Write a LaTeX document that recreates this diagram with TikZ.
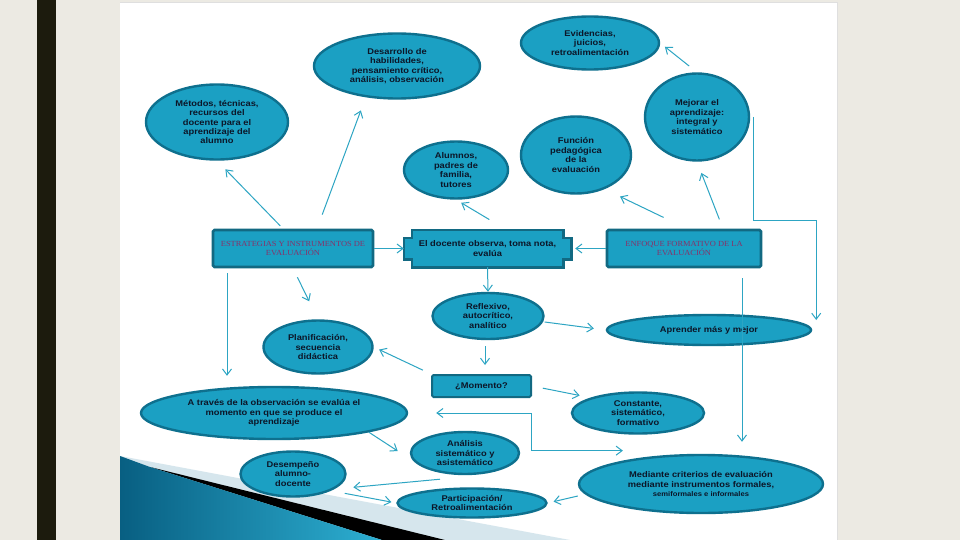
\documentclass[tikz,border=0pt]{standalone}
\usepackage{fontspec}
\setmainfont{Liberation Sans}
\newfontfamily\bubblefont{Liberation Sans}[FakeStretch=1.12]
\newfontfamily\capsfont{Liberation Serif}[FakeStretch=1.08]
\usetikzlibrary{arrows.meta, shapes.geometric, positioning, calc, backgrounds}

\definecolor{pagebg}{RGB}{236,234,227}
\definecolor{barcol}{RGB}{28,27,13}
\definecolor{bubblefill}{RGB}{27,160,195}
\definecolor{bubbleline}{RGB}{14,112,142}
\definecolor{boxline}{RGB}{18,105,130}
\definecolor{nodetext}{RGB}{12,22,40}
\definecolor{capstext}{RGB}{135,50,105}
\definecolor{arrowcol}{RGB}{45,165,195}
\definecolor{decodark}{RGB}{8,95,130}
\definecolor{decolight}{RGB}{45,175,210}
\definecolor{decoband}{RGB}{214,230,237}

\begin{document}
\begin{tikzpicture}[x=1pt, y=-1pt,
  bubble/.style={ellipse, draw=bubbleline, line width=2.4pt, fill=bubblefill, inner sep=0pt,
                 align=center, text=nodetext, font=\bubblefont\fontsize{8.3}{9.4}\selectfont\bfseries},
  titlebox/.style={rectangle, draw=boxline, line width=2.6pt, fill=bubblefill, rounded corners=1.5pt,
                   inner sep=0pt, align=center, text=capstext, font=\capsfont\fontsize{7.8}{9.3}\selectfont},
  plaquebox/.style={rectangle, inner sep=0pt, align=center, text=nodetext,
                    font=\bubblefont\fontsize{8.3}{9.4}\selectfont\bfseries},
  arr/.style={-{Straight Barb[length=6pt, width=9pt]}, draw=arrowcol, line width=1pt},
  darr/.style={{Straight Barb[length=6pt, width=9pt]}-{Straight Barb[length=6pt, width=9pt]},
               draw=arrowcol, line width=1pt}
]
\useasboundingbox (0,0) rectangle (960,540);

% ---- slide background ----
\begin{scope}[on background layer]
  \fill[pagebg] (0,0) rectangle (960,540);
  \fill[barcol] (37,0) rectangle (56,540);
  \fill[white] (120,2) rectangle (837,540);
  \draw[gray!25, line width=0.8pt] (120,2) -- (837,2) -- (837,540);
  \fill[decoband] (120,456) -- (570,540) -- (120,540) -- cycle;
  \fill[black] (150,467) -- (445,540) -- (382,540) -- cycle;
  \shade[left color=decodark, right color=decolight] (120,456) -- (150,467) -- (382,540) -- (120,540) -- cycle;
\end{scope}

% ---- top row ----
\node[bubble, minimum width=142pt, minimum height=75pt] (metodos) at (217,122)
  {Métodos, técnicas,\\recursos del\\docente para el\\aprendizaje del\\alumno};
\node[bubble, minimum width=166pt, minimum height=65pt] (desarrollo) at (397,66)
  {Desarrollo de\\habilidades,\\pensamiento crítico,\\análisis, observación};
\node[bubble, minimum width=104pt, minimum height=57pt] (alumnos) at (456,170)
  {Alumnos,\\padres de\\familia,\\tutores};
\node[bubble, minimum width=138pt, minimum height=53pt] (evidencias) at (590,43)
  {Evidencias,\\juicios,\\retroalimentación};
\node[bubble, minimum width=110pt, minimum height=77pt] (funcion) at (576,155)
  {Función\\pedagógica\\de la\\evaluación};
\node[bubble, minimum width=104pt, minimum height=87pt] (mejorar) at (697,117)
  {Mejorar el\\aprendizaje:\\integral y\\sistemático};

% ---- middle row ----
\node[titlebox, minimum width=160pt, minimum height=37pt] (estrategias) at (293,248.5)
  {ESTRATEGIAS Y INSTRUMENTOS DE\\EVALUACIÓN};
\node[plaquebox, minimum width=167pt, minimum height=37pt] (docente) at (487.5,248.5)
  {El docente observa, toma nota,\\evalúa};
\node[titlebox, minimum width=154pt, minimum height=37pt] (enfoque) at (684,248.5)
  {ENFOQUE FORMATIVO DE LA\\EVALUACIÓN};
\begin{scope}[on background layer]
  \filldraw[fill=bubblefill, draw=boxline, line width=2.6pt]
    ($(docente.north west)+(8,0)$) -- ($(docente.north east)+(-8,0)$) -- ++(0,8) -- ++(8,0)
    -- ($(docente.south east)+(0,-8)$) -- ++(-8,0) -- ++(0,8) -- ($(docente.south west)+(8,0)$)
    -- ++(0,-8) -- ++(-8,0) -- ($(docente.north west)+(0,8)$) -- ++(8,0) -- cycle;
\end{scope}

% ---- lower part ----
\node[bubble, minimum width=111pt, minimum height=46pt] (reflexivo) at (488,316)
  {Reflexivo,\\autocrítico,\\analítico};
\node[bubble, minimum width=204pt, minimum height=30pt] (aprender) at (709,330)
  {Aprender más y mejor};
\node[bubble, minimum width=109pt, minimum height=53pt] (planif) at (318,347)
  {Planificación,\\secuencia\\didáctica};
\node[titlebox, minimum width=99pt, minimum height=22pt, line width=2pt, text=nodetext,
      font=\bubblefont\fontsize{8.3}{9.4}\selectfont\bfseries] (momento) at (481.5,386) {¿Momento?};
\node[bubble, minimum width=266pt, minimum height=52pt] (atraves) at (274,413)
  {A través de la observación se evalúa el\\momento en que se produce el\\aprendizaje};
\node[bubble, minimum width=132pt, minimum height=41pt] (constante) at (638,413)
  {Constante,\\sistemático,\\formativo};
\node[bubble, minimum width=108pt, minimum height=42pt] (analisis) at (465,453)
  {Análisis\\sistemático y\\asistemático};
\node[bubble, minimum width=244pt, minimum height=58pt] (mediante) at (701,484)
  {Mediante criterios de evaluación\\mediante instrumentos formales,\\{\fontsize{6.8}{8}\selectfont semiformales e informales}};
\node[bubble, minimum width=105pt, minimum height=45pt] (desempeno) at (293,474)
  {Desempeño\\alumno-\\docente};
\node[bubble, minimum width=149pt, minimum height=29pt] (particip) at (472,503)
  {Participación/\\Retroalimentación};

% ---- connectors ----
\draw[arr, shorten <=4pt, shorten >=12pt] ([xshift=-10pt]estrategias.north) -- (metodos.south);
\draw[arr, shorten <=15pt, shorten >=14pt] ([xshift=24pt]estrategias.north) -- (desarrollo.225);
\draw[arr, shorten <=20pt, shorten >=6pt] ([xshift=19pt]docente.north) -- (alumnos.south);
\draw[arr, shorten <=26pt, shorten >=17pt] ([xshift=3pt]enfoque.north) -- (funcion.-50);
\draw[arr, shorten <=10pt, shorten >=12pt] ([xshift=39pt]enfoque.north) -- (mejorar.south);
\draw[arr, shorten <=10pt, shorten >=6pt] (mejorar.north) -- (evidencias.east);
\draw[arr, shorten >=10pt] ([xshift=3pt]mejorar.east) -- ++(0,103) -| ([xshift=4pt]aprender.east);

\draw[arr] (estrategias.east) -- (docente.west);
\draw[arr, shorten >=4pt] (enfoque.west) -- (docente.east);
\draw[arr, shorten <=5pt, shorten >=10pt] ([xshift=-66pt]estrategias.south)
  -- ([xshift=-66pt]estrategias.south |- atraves.north);
\draw[arr, shorten <=10pt, shorten >=20pt] (estrategias.south) -- (planif.north);
\draw[arr] (docente.south) -- (reflexivo.north);
\draw[arr, shorten <=10pt, shorten >=12pt] ([xshift=58pt]enfoque.south)
  -- ([xshift=58pt]enfoque.south |- mediante.north);

\draw[arr, shorten >=12pt] ([yshift=-6pt]reflexivo.east) -- (aprender.west);
\draw[arr, shorten <=6pt, shorten >=9pt] ([xshift=-3pt]reflexivo.south) -- ([xshift=3.5pt]momento.north);
\draw[arr, shorten <=9pt, shorten >=6pt] (momento.north west) -- (planif.east);
\draw[arr, shorten <=11pt, shorten >=11pt] (momento.east) -- (constante.north west);
\draw[darr, shorten <=28pt] (atraves.east) -- ++(123,0) |- ([xshift=9pt, yshift=12pt]mediante.north west);

\draw[arr, shorten >=20pt] (atraves.south east) -- (analisis.190);
\draw[arr, shorten >=19pt] ([xshift=-25pt, yshift=-4pt]analisis.south) -- (desempeno.-20);
\draw[arr, shorten <=14pt, shorten >=5pt] (desempeno.south east) -- (particip.west);
\draw[arr, shorten >=6pt] ([yshift=-12pt]mediante.west) -- (particip.east);

\end{tikzpicture}
\end{document}
